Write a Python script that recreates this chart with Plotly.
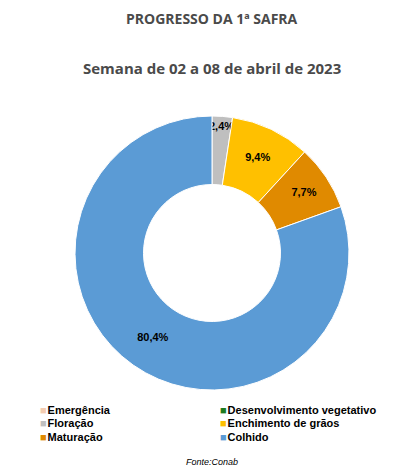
import plotly.graph_objects as go

labels = ["Emergência", "Desenvolvimento vegetativo", "Floração",
          "Enchimento de grãos", "Maturação", "Colhido"]
values = [0.0, 0.0, 2.4, 9.4, 7.7, 80.4]
colors = ["#F4CCB0", "#1E7B1E", "#BFBFBF", "#FFC000", "#E08A00", "#5B9BD5"]
texts = ["", "", "2,4%", "9,4%", "7,7%", "80,4%"]

W, H = 417, 472
OFF = 8  # page offset of the plot inside the browser window


def px(x):
    return (x - OFF) / W


def py(y):
    return (H - (y - OFF)) / H


fig = go.Figure(go.Pie(
    labels=labels, values=values, sort=False, direction="clockwise", rotation=0,
    hole=0.5, marker=dict(colors=colors, line=dict(color="white", width=1)),
    text=texts, textinfo="text", textposition="inside", insidetextorientation="horizontal",
    textfont=dict(family="Liberation Sans", size=11, color="black", weight="bold"),
    domain=dict(x=[px(75), px(349)], y=[py(390), py(116)]),
    showlegend=False,
))

fig.add_annotation(text="<b>PROGRESSO DA 1ª SAFRA</b>", x=px(212), y=py(18),
                   font=dict(size=14))
fig.add_annotation(text="<b>Semana de 02 a 08 de abril de 2023</b>", x=px(212), y=py(68),
                   font=dict(size=15))
fig.update_annotations(xref="paper", yref="paper", showarrow=False, yanchor="middle",
                       font=dict(family="Open Sans", color="#4a4a4a"))

# legend: two columns, three rows
legend_pos = [(38, 410), (218, 410), (38, 423), (218, 423), (38, 437), (218, 437)]
for lab, col, (lx, ly) in zip(labels, colors, legend_pos):
    fig.add_annotation(text=f"<span style='color:{col}'>■</span>\u200a<b>{lab}</b>", x=px(lx), y=py(ly),
                       xref="paper", yref="paper", xanchor="left", yanchor="middle", showarrow=False,
                       font=dict(family="Liberation Sans", size=11, color="black"))
fig.add_annotation(text="<i>Fonte:Conab</i>", x=px(212), y=py(462), xref="paper", yref="paper",
                   yanchor="middle", showarrow=False,
                   font=dict(family="Liberation Sans", size=9, color="black"))

fig.update_layout(
    width=W, height=H, margin=dict(l=0, r=0, t=0, b=0),
    paper_bgcolor="white", plot_bgcolor="white",
    uniformtext=dict(minsize=11, mode="show"),
)

fig.write_html("out.html")
